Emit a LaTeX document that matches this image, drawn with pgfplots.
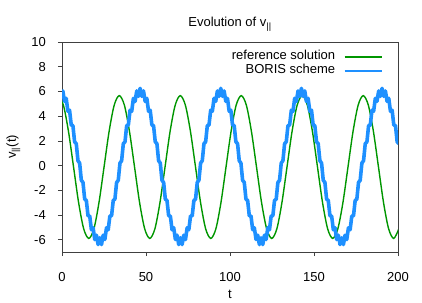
\documentclass[border=0pt]{standalone}
\usepackage{fontspec}
\setmainfont{Liberation Sans}
\usepackage{pgfplots}
\pgfplotsset{compat=1.18}
\definecolor{refgreen}{RGB}{0,150,0}
\definecolor{borisblue}{RGB}{30,144,255}
\newcommand{\ff}{\fontsize{13}{15}\selectfont}
\pgfplotsset{thinlegend/.style={legend image code/.code={\draw[##1, line width=2.8pt] (0pt,0pt) -- (37pt,0pt);}}}
\begin{document}
\begin{tikzpicture}
\path[use as bounding box] (-62pt,-50pt) rectangle (360pt,252pt);
\begin{axis}[
  scale only axis, width=336pt, height=210pt,
  at={(0,0)}, anchor=south west,
  xmin=0, xmax=200, ymin=-7, ymax=10,
  xtick={0,50,...,200}, ytick={-6,-4,...,10},
  tick pos=left, tick align=outside, major tick length=4pt,
  axis line style={black!75, line width=0.6pt},
  every tick/.style={black!75, line width=0.6pt},
  /pgf/number format/assume math mode=true,
  tick label style={font=\ff},
  xticklabel style={anchor=base, inner sep=0pt, yshift=-25pt},
  yticklabel style={anchor=east, inner sep=0pt, xshift=-12pt},
  title={Evolution of v\textsubscript{||}},
  every axis title/.style={at={(0.5,1)}, anchor=base, yshift=15pt, font=\ff},
  xlabel={t},
  every axis x label/.style={at={(0.5,0)}, anchor=base, yshift=-46pt, font=\ff},
  ylabel={v\textsubscript{||}(t)},
  every axis y label/.style={at={(0,0.5)}, xshift=-46pt, rotate=90, anchor=base, font=\ff},
  legend style={at={(1,1)}, anchor=north east, xshift=-15pt, yshift=-9pt,
    draw=none, fill=none, inner sep=0pt, outer sep=0pt, font=\ff,
    row sep=2pt, column sep=8pt,
    nodes={inner sep=0pt, text height=9pt, text depth=3pt}},
  legend cell align=right, legend plot pos=right,
  legend image code/.code={\draw[#1] (0pt,0pt) -- (37pt,0pt);},
]
\addplot[refgreen, line width=1.4pt, smooth] coordinates {
(-2.2,5.66)(0.83,4.89)(3.85,2.77)(6.88,-0.12)(9.9,-3.01)(12.93,-5.13)(15.95,-5.90)(18.98,-5.13)(22.0,-3.01)(25.03,-0.12)(28.05,2.77)(31.08,4.89)
(34.1,5.66)(37.13,4.89)(40.15,2.77)(43.18,-0.12)(46.2,-3.01)(49.23,-5.13)(52.25,-5.90)(55.28,-5.13)(58.3,-3.01)(61.33,-0.12)(64.35,2.77)(67.38,4.89)
(70.4,5.66)(73.43,4.89)(76.45,2.77)(79.48,-0.12)(82.5,-3.01)(85.53,-5.13)(88.55,-5.90)(91.58,-5.13)(94.6,-3.01)(97.63,-0.12)(100.65,2.77)(103.68,4.89)
(106.7,5.66)(109.73,4.89)(112.75,2.77)(115.78,-0.12)(118.8,-3.01)(121.83,-5.13)(124.85,-5.90)(127.88,-5.13)(130.9,-3.01)(133.93,-0.12)(136.95,2.77)(139.98,4.89)
(143.0,5.66)(146.03,4.89)(149.05,2.77)(152.08,-0.12)(155.1,-3.01)(158.13,-5.13)(161.15,-5.90)(164.18,-5.13)(167.2,-3.01)(170.23,-0.12)(173.25,2.77)(176.28,4.89)
(179.3,5.66)(182.33,4.89)(185.35,2.77)(188.38,-0.12)(191.4,-3.01)(194.43,-5.13)(197.45,-5.90)(200.48,-5.13)
};
\addlegendentry{reference solution}
\addplot[borisblue, line width=3.6pt, line join=round, thinlegend] coordinates {
(-1.5,6.25)(-0.5,5.60)(0.5,6.04)(1.5,5.19)(2.5,5.44)(3.5,4.40)(4.5,4.48)(5.5,3.28)(6.5,3.23)(7.5,1.92)(8.5,1.77)(9.5,0.39)(10.5,0.20)(11.5,-1.19)(12.5,-1.37)(13.5,-2.72)(14.5,-2.83)(15.5,-4.08)(16.5,-4.08)(17.5,-5.20)(18.5,-5.04)(19.5,-5.99)(20.5,-5.64)(21.5,-6.40)(22.5,-5.85)(23.5,-6.40)(24.5,-5.64)(25.5,-5.99)(26.5,-5.04)(27.5,-5.20)(28.5,-4.08)(29.5,-4.08)(30.5,-2.83)(31.5,-2.72)(32.5,-1.37)(33.5,-1.19)(34.5,0.20)(35.5,0.39)(36.5,1.77)(37.5,1.92)(38.5,3.23)(39.5,3.28)(40.5,4.48)(41.5,4.40)(42.5,5.44)(43.5,5.19)(44.5,6.04)(45.5,5.60)
(46.5,6.25)(47.5,5.60)(48.5,6.04)(49.5,5.19)(50.5,5.44)(51.5,4.40)(52.5,4.48)(53.5,3.28)(54.5,3.23)(55.5,1.92)(56.5,1.77)(57.5,0.39)(58.5,0.20)(59.5,-1.19)(60.5,-1.37)(61.5,-2.72)(62.5,-2.83)(63.5,-4.08)(64.5,-4.08)(65.5,-5.20)(66.5,-5.04)(67.5,-5.99)(68.5,-5.64)(69.5,-6.40)(70.5,-5.85)(71.5,-6.40)(72.5,-5.64)(73.5,-5.99)(74.5,-5.04)(75.5,-5.20)(76.5,-4.08)(77.5,-4.08)(78.5,-2.83)(79.5,-2.72)(80.5,-1.37)(81.5,-1.19)(82.5,0.20)(83.5,0.39)(84.5,1.77)(85.5,1.92)(86.5,3.23)(87.5,3.28)(88.5,4.48)(89.5,4.40)(90.5,5.44)(91.5,5.19)(92.5,6.04)(93.5,5.60)
(94.5,6.25)(95.5,5.60)(96.5,6.04)(97.5,5.19)(98.5,5.44)(99.5,4.40)(100.5,4.48)(101.5,3.28)(102.5,3.23)(103.5,1.92)(104.5,1.77)(105.5,0.39)(106.5,0.20)(107.5,-1.19)(108.5,-1.37)(109.5,-2.72)(110.5,-2.83)(111.5,-4.08)(112.5,-4.08)(113.5,-5.20)(114.5,-5.04)(115.5,-5.99)(116.5,-5.64)(117.5,-6.40)(118.5,-5.85)(119.5,-6.40)(120.5,-5.64)(121.5,-5.99)(122.5,-5.04)(123.5,-5.20)(124.5,-4.08)(125.5,-4.08)(126.5,-2.83)(127.5,-2.72)(128.5,-1.37)(129.5,-1.19)(130.5,0.20)(131.5,0.39)(132.5,1.77)(133.5,1.92)(134.5,3.23)(135.5,3.28)(136.5,4.48)(137.5,4.40)(138.5,5.44)(139.5,5.19)(140.5,6.04)(141.5,5.60)
(142.5,6.25)(143.5,5.60)(144.5,6.04)(145.5,5.19)(146.5,5.44)(147.5,4.40)(148.5,4.48)(149.5,3.28)(150.5,3.23)(151.5,1.92)(152.5,1.77)(153.5,0.39)(154.5,0.20)(155.5,-1.19)(156.5,-1.37)(157.5,-2.72)(158.5,-2.83)(159.5,-4.08)(160.5,-4.08)(161.5,-5.20)(162.5,-5.04)(163.5,-5.99)(164.5,-5.64)(165.5,-6.40)(166.5,-5.85)(167.5,-6.40)(168.5,-5.64)(169.5,-5.99)(170.5,-5.04)(171.5,-5.20)(172.5,-4.08)(173.5,-4.08)(174.5,-2.83)(175.5,-2.72)(176.5,-1.37)(177.5,-1.19)(178.5,0.20)(179.5,0.39)(180.5,1.77)(181.5,1.92)(182.5,3.23)(183.5,3.28)(184.5,4.48)(185.5,4.40)(186.5,5.44)(187.5,5.19)(188.5,6.04)(189.5,5.60)
(190.5,6.25)(191.5,5.60)(192.5,6.04)(193.5,5.19)(194.5,5.44)(195.5,4.40)(196.5,4.48)(197.5,3.28)(198.5,3.23)(199.5,1.92)(200.5,1.77)
};
\addlegendentry{BORIS scheme}
\end{axis}
\end{tikzpicture}
\end{document}
